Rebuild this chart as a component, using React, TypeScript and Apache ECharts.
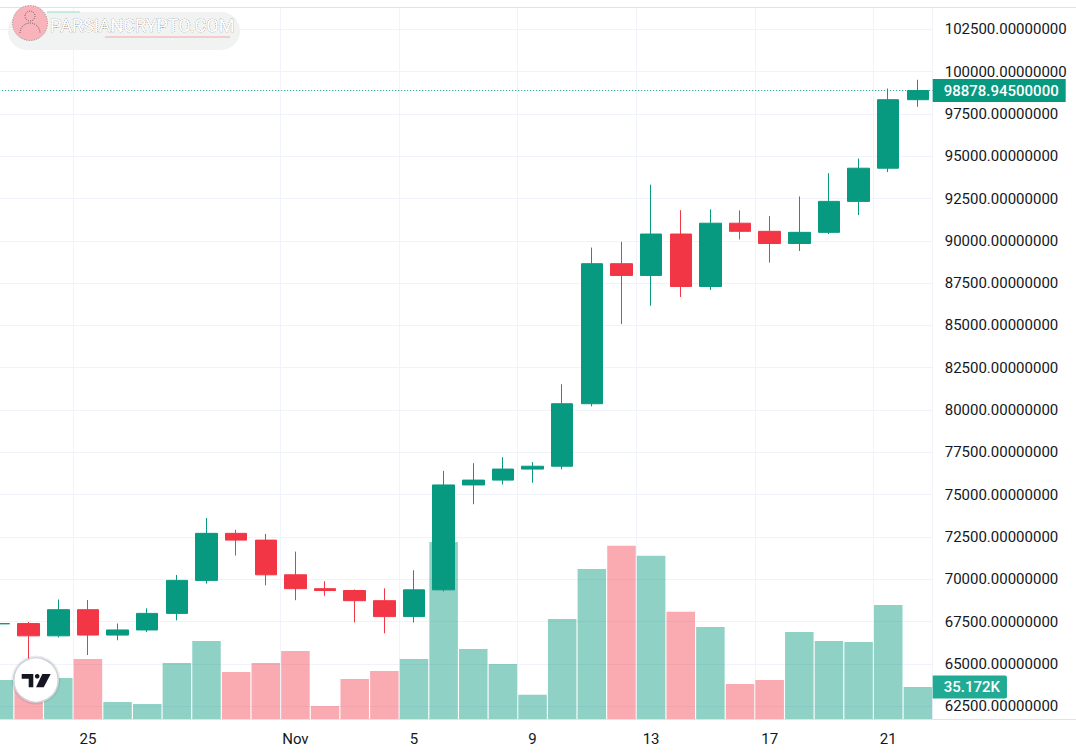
import React, { useEffect, useRef } from 'react';
import * as echarts from 'echarts';

// ---- data (BTC daily, Oct 22 – Nov 22) ----
const dates = [
  '2024-10-22', '2024-10-23', '2024-10-24', '2024-10-25', '2024-10-26', '2024-10-27', '2024-10-28',
  '2024-10-29', '2024-10-30', '2024-10-31', '2024-11-01', '2024-11-02', '2024-11-03', '2024-11-04',
  '2024-11-05', '2024-11-06', '2024-11-07', '2024-11-08', '2024-11-09', '2024-11-10', '2024-11-11',
  '2024-11-12', '2024-11-13', '2024-11-14', '2024-11-15', '2024-11-16', '2024-11-17', '2024-11-18',
  '2024-11-19', '2024-11-20', '2024-11-21', '2024-11-22',
];
const opens = [
  67362, 67378, 66653, 68198, 66698, 67000, 67980, 69930, 72710, 72310, 70260, 69440, 69330, 68730,
  67790, 69372, 75571, 75857, 76509, 76677, 80370, 88647, 87952, 90400, 87300, 91040, 90560, 89840,
  90500, 92330, 94290, 98340,
];
const closes = [
  67378, 66653, 68198, 66698, 67000, 67980, 69930, 72710, 72310, 70260, 69440, 69330, 68730, 67790,
  69372, 75571, 75857, 76509, 76677, 80370, 88647, 87952, 90400, 87300, 91040, 90560, 89840, 90500,
  92330, 94290, 98340, 98878.945,
];
const lows = [
  66571, 65260, 66559, 65520, 66390, 66874, 67570, 69740, 71400, 69640, 68760, 69020, 67450, 66800,
  67440, 69280, 74430, 75600, 75700, 76492, 80216, 85080, 86160, 86680, 87090, 90080, 88710, 89400,
  90400, 91520, 94060, 97920,
];
const highs = [
  67836, 67470, 68800, 68771, 67380, 68280, 70250, 73620, 72920, 72680, 71630, 69880, 69390, 69460,
  70530, 76400, 76860, 77210, 76920, 81520, 89600, 89940, 93320, 91810, 91860, 91800, 91460, 92620,
  94000, 94860, 99000, 99520,
];
const volumes = [
  42900, 41000, 45100, 65900, 18700, 16500, 61500, 85700, 51700, 61500, 74700, 14300, 44000, 52800,
  65900, 194500, 76900, 60400, 26700, 109900, 164800, 190500, 179500, 117900, 101100, 38500, 42900,
  95600, 85700, 84600, 125300, 35172,
];
const priceTicks = [
  62500, 65000, 67500, 70000, 72500, 75000, 77500, 80000, 82500, 85000, 87500, 90000, 92500, 95000,
  97500, 100000, 102500,
];
const dateTickLabels: Record<string, string> = {
  '2024-10-25': '25',
  '2024-11-01': 'Nov',
  '2024-11-05': '5',
  '2024-11-09': '9',
  '2024-11-13': '13',
  '2024-11-17': '17',
  '2024-11-21': '21',
};
const lastPrice = 98878.945;
const lastPriceLabel = '98878.94500000';
const lastVolume = 35172;
const lastVolumeLabel = '35.172K';

const UP = '#089981';
const DOWN = '#F23645';
const UP_VOL = 'rgba(8,153,129,0.45)';
const DOWN_VOL = 'rgba(242,54,69,0.42)';
const GRID = '#f0f3fa';
const TEXT = '#131722';
const FONT = 'Roboto';

export default function App() {
  const ref = useRef<HTMLDivElement>(null);

  useEffect(() => {
    if (!ref.current) return;
    const chart = echarts.init(ref.current, undefined, { renderer: 'svg' });

    const candleData = dates.map((_, i) => [opens[i], closes[i], lows[i], highs[i]]);
    const volData = dates.map((_, i) => ({
      value: volumes[i],
      itemStyle: { color: closes[i] >= opens[i] ? UP_VOL : DOWN_VOL },
    }));
    const showDate = (idx: number) => dateTickLabels[dates[idx]] !== undefined;

    const deco = (el: any) => ({ silent: true, zlevel: 1, ...el });

    const option: any = {
      animation: false,
      backgroundColor: '#ffffff',
      grid: {
        left: -15.8,
        right: 143.3,
        top: 8,
        bottom: 37,
        outerBoundsMode: 'none',
      },
      xAxis: {
        type: 'category',
        data: dates,
        boundaryGap: true,
        axisLine: { show: false },
        axisTick: { show: false },
        axisLabel: {
          interval: (idx: number) => showDate(idx),
          formatter: (v: string) => dateTickLabels[v] || '',
          color: TEXT,
          fontSize: 15,
          fontFamily: FONT,
          margin: 12,
        },
        splitLine: {
          show: true,
          interval: (idx: number) => showDate(idx),
          lineStyle: { color: GRID, width: 1 },
        },
      },
      yAxis: [
        {
          type: 'value',
          position: 'right',
          min: 61738,
          max: 103759,
          scale: true,
          axisLine: { show: false },
          axisTick: { show: false, customValues: priceTicks },
          axisLabel: {
            customValues: priceTicks,
            formatter: (v: number) => v.toFixed(8),
            color: TEXT,
            fontSize: 15,
            fontFamily: FONT,
            margin: 12,
          },
          splitLine: { show: true, lineStyle: { color: GRID, width: 1 } },
        },
        {
          type: 'value',
          min: 0,
          max: 781500,
          show: false,
          splitLine: { show: false },
        },
      ],
      series: [
        {
          type: 'bar',
          name: 'Volume',
          yAxisIndex: 1,
          data: volData,
          barWidth: 28.5,
          clip: false,
          z: 1,
          markLine: {
            silent: true,
            symbol: ['none', 'none'],
            lineStyle: { color: 'rgba(0,0,0,0)', width: 1, type: 'solid' },
            label: {
              show: true,
              position: 'end',
              distance: 0,
              formatter: lastVolumeLabel,
              color: '#ffffff',
              backgroundColor: '#22ab94',
              fontSize: 15,
              fontWeight: 500,
              fontFamily: FONT,
              padding: [4, 7, 4, 11],
              borderRadius: [0, 2, 2, 0],
            },
            emphasis: { disabled: true },
            data: [{ yAxis: lastVolume }],
          },
        },
        {
          type: 'candlestick',
          name: 'BTC',
          data: candleData,
          barWidth: 22,
          clip: false,
          z: 3,
          itemStyle: {
            color: UP,
            color0: DOWN,
            borderColor: UP,
            borderColor0: DOWN,
            borderWidth: 1,
          },
          markLine: {
            silent: true,
            symbol: ['none', 'none'],
            lineStyle: { color: UP, width: 1, type: [1, 2] },
            label: {
              show: true,
              position: 'end',
              distance: 0,
              formatter: lastPriceLabel,
              color: '#ffffff',
              backgroundColor: UP,
              fontSize: 15,
              fontWeight: 500,
              fontFamily: FONT,
              padding: [4, 7, 4, 11],
            },
            data: [{ yAxis: lastPrice }],
          },
        },
      ],
      graphic: {
        elements: [
          // frame lines
          deco({ type: 'line', id: 'topLine', z: 50, shape: { x1: 0, y1: 7.5, x2: 1076, y2: 7.5 }, style: { stroke: '#e0e3eb', lineWidth: 1 } }),
          deco({ type: 'line', id: 'botLine', z: 50, shape: { x1: 0, y1: 719.5, x2: 1076, y2: 719.5 }, style: { stroke: '#e0e3eb', lineWidth: 1 } }),
          // watermark
          deco({ type: 'rect', id: 'wmBg', z: 60, shape: { x: 8, y: 12, width: 232, height: 38, r: 19 }, style: { fill: '#f1f3f3' } }),
          deco({ type: 'line', id: 'wmL1', z: 61, shape: { x1: 105, y1: 37, x2: 230, y2: 37 }, style: { stroke: '#f4a4aa', lineWidth: 1 } }),
          deco({ type: 'line', id: 'wmL2', z: 61, shape: { x1: 47, y1: 12, x2: 80, y2: 12 }, style: { stroke: '#9ad9cc', lineWidth: 1 } }),
          deco({ type: 'circle', id: 'wmC', z: 62, shape: { cx: 30, cy: 23, r: 17.5 }, style: { fill: '#f8b4ba', stroke: '#777', lineWidth: 0.8, lineDash: [1, 1.5] } }),
          deco({ type: 'circle', id: 'wmHead', z: 63, shape: { cx: 30, cy: 16, r: 5 }, style: { fill: 'none', stroke: '#444', lineWidth: 0.8, lineDash: [1, 1.2] } }),
          deco({ type: 'arc', id: 'wmBody', z: 63, shape: { cx: 30, cy: 33, r: 10, startAngle: Math.PI, endAngle: Math.PI * 2 }, style: { fill: 'none', stroke: '#444', lineWidth: 0.8, lineDash: [1, 1.2] } }),
          deco({
            type: 'text',
            id: 'wmText',
            z: 63,
            x: 50,
            y: 25.5,
            style: {
              text: 'PARSIANCRYPTO.COM', fontSize: 18, fontFamily: FONT,
              fill: '#ffffff', stroke: '#555', lineWidth: 0.7, lineDash: [1, 1],
              verticalAlign: 'middle', align: 'left',
            },
          }),
          // TradingView logo
          deco({
            type: 'circle',
            id: 'tvHalo',
            z: 99,
            shape: { cx: 36, cy: 680, r: 23.5 },
            style: { fill: 'none', stroke: 'rgba(19,23,34,0.08)', lineWidth: 2 },
          }),
          deco({
            type: 'circle',
            id: 'tvCircle',
            z: 100,
            shape: { cx: 36, cy: 680, r: 22.3 },
            style: { fill: '#ffffff', stroke: '#cfd2d9', lineWidth: 1.6 },
          }),
          deco({ type: 'polygon', id: 'tvT', z: 101, shape: { points: [[21.7, 674], [33.3, 674], [33.3, 687.3], [28.7, 687.3], [28.7, 678.7], [21.7, 678.7]] }, style: { fill: TEXT } }),
          deco({ type: 'circle', id: 'tvDot', z: 101, shape: { cx: 37.2, cy: 676.3, r: 2.3 }, style: { fill: TEXT } }),
          deco({ type: 'polygon', id: 'tvSlash', z: 101, shape: { points: [[42.3, 674], [50.7, 674], [43.7, 687.3], [36, 687.3]] }, style: { fill: TEXT } }),
        ],
      },
    };

    chart.setOption(option);
    return () => chart.dispose();
  }, []);

  return (
    <div
      ref={ref}
      style={{ position: 'fixed', left: 0, top: 0, width: 1076, height: 756, background: '#fff' }}
    />
  );
}
